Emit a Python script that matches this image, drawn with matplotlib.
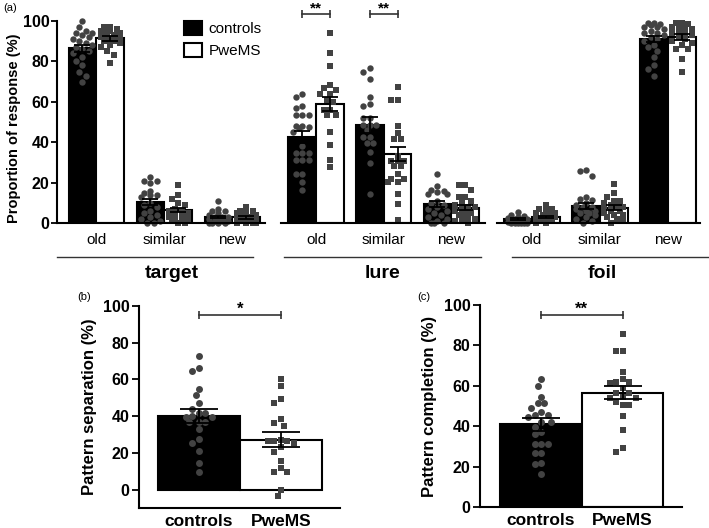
import numpy as np
import matplotlib
matplotlib.use("Agg")
import matplotlib.pyplot as plt
from matplotlib.patches import Patch

plt.rcParams['font.family'] = ['Liberation Sans', 'DejaVu Sans']

W, H = 709, 528

# ---------------- panel (a): proportion of responses ----------------
responses = ['old', 'similar', 'new']
groups = ['target', 'lure', 'foil']

target_ctrl_mean = [86.5, 10.4, 3.0]
target_ctrl_sem = [1.8, 1.6, 0.7]
target_pwms_mean = [91.4, 6.4, 2.8]
target_pwms_sem = [1.2, 1.2, 0.6]
lure_ctrl_mean = [42.7, 48.4, 9.4]
lure_ctrl_sem = [3.0, 4.0, 1.5]
lure_pwms_mean = [58.9, 34.2, 7.6]
lure_pwms_sem = [3.6, 3.6, 1.3]
foil_ctrl_mean = [2.2, 8.4, 91.1]
foil_ctrl_sem = [0.5, 1.6, 1.5]
foil_pwms_mean = [3.0, 7.6, 92.2]
foil_pwms_sem = [0.6, 1.2, 1.4]

target_old_ctrl = [100, 97, 95, 94, 94, 93, 92, 91, 90, 89, 88, 87, 86, 85, 84, 82, 80, 78, 75, 73, 70]
target_old_pwms = [97, 97, 96, 96, 95, 95, 94, 93, 93, 92, 91, 91, 90, 90, 89, 88, 87, 85, 83, 79]
target_sim_ctrl = [23, 21, 21, 20, 16, 15, 14, 14, 13, 10, 9, 8, 6, 5, 4, 3, 2, 1, 0, 0]
target_sim_pwms = [19, 14, 12, 10, 9, 7, 6, 6, 5, 5, 4, 3, 3, 2, 2, 1, 0, 0]
target_new_ctrl = [11, 7, 6, 6, 5, 4, 3, 3, 3, 2, 2, 2, 1, 1, 1, 0, 0, 0, 0]
target_new_pwms = [8, 6, 6, 5, 5, 4, 3, 3, 2, 2, 2, 1, 1, 1, 0, 0, 0, 0]

lure_old_ctrl = [64, 62.5, 58, 57, 53.5, 53.5, 53.5, 48, 48, 47.5, 47, 45, 38, 34.5, 34.5, 34.5,
                 31, 31, 31, 24.5, 24.5, 20.5, 16.5]
lure_old_pwms = [94, 84, 77.5, 68.5, 67, 66, 64, 64, 61, 60, 56, 56, 53.5, 53.5, 45, 38.5, 31, 27.5]
lure_sim_ctrl = [76.5, 75, 71.5, 62.5, 59, 58, 52, 52, 48.5, 48.5, 48.5, 46, 42.5, 42.5, 39.5, 39.5,
                 35, 29.5, 14.5]
lure_sim_pwms = [67.5, 61, 61, 48, 44.5, 41.5, 41.5, 33, 30.5, 30.5, 30.5, 28, 28, 24.5, 22, 22,
                 20.5, 20.5, 14.5, 9.5, 1.5]
lure_new_ctrl = [24.5, 18.5, 16.5, 16, 15.5, 14.5, 14.5, 11, 10, 9, 8, 7, 6, 5, 4, 3, 2, 1, 0, 0, 0]
lure_new_pwms = [19, 19, 16.5, 13, 13, 11, 10, 9, 8, 8, 7, 6, 5, 5, 4, 3, 2, 2, 1, 0]

foil_old_ctrl = [5.5, 4, 3.5, 3, 2.5, 2, 2, 1.5, 1, 1, 0.5, 0.5, 0, 0, 0, 0, 0, 0]
foil_old_pwms = [9, 7, 7, 6, 5, 5, 4, 4, 3, 3, 2, 2, 1, 1, 0, 0]
foil_sim_ctrl = [26, 25.5, 23.5, 13, 12, 11.5, 10, 9, 8, 8, 7, 6, 6, 5, 5, 4, 3, 2, 1, 0]
foil_sim_pwms = [19.5, 15, 13, 11, 11, 10, 9, 8, 8, 7, 6, 6, 5, 4, 4, 3, 2, 1, 0]
foil_new_ctrl = [99, 99, 98.5, 98, 97, 97, 96, 95, 94, 94, 93, 92, 91, 90, 88, 87, 85, 82, 78, 76, 73]
foil_new_pwms = [99, 99, 98.5, 98, 97, 97, 96, 95, 94, 94, 93, 92, 91, 90, 89, 88, 86, 86, 81, 75]

# ---------------- panels (b) and (c) ----------------
subjects = ['controls', 'PweMS']
sep_mean = [40.1, 27.3]
sep_sem = [4.0, 4.0]
sep_ctrl = [72.9, 66, 64.6, 54.8, 51.4, 47, 44, 41.6, 41.6, 40, 39.8, 39.5, 36.7, 36.7, 36.7,
            32.9, 27.5, 25.3, 21.2, 14.5, 9.9]
sep_pwms = [60.2, 56.4, 49.4, 47.0, 38.3, 36.2, 34.9, 27.1, 26.8, 26.8, 26.8, 25.3, 23.5, 20.8,
            15.9, 11.8, 9.6, 9.6, 0, -3.1]
comp_mean = [41.0, 56.7]
comp_sem = [3.2, 3.3]
comp_ctrl = [63.3, 60.1, 54.4, 51.4, 51.4, 49.3, 47.3, 45.5, 45.5, 44.8, 42.3, 42.3, 39.9, 37.4,
             36.2, 31.1, 31.1, 31.1, 26.7, 26.7, 22.1, 21.4, 16.3]
comp_pwms = [85.5, 77.3, 77.3, 67.1, 63.3, 62.1, 62.1, 61.3, 58.8, 56.3, 56.3, 54.7, 53.9, 53.9,
             52.2, 50.6, 50.6, 45.1, 38.2, 29.2, 27.2]

PT_COLOR = '#424242'


def swarm(values, ppx, ppy, diam, maxoff):
    """simple beeswarm: returns x offsets (data units) so markers barely overlap"""
    vals = np.asarray(values, float)
    step = diam * 0.5
    nmax = max(int(maxoff * ppx / step), 0)
    cands = [0.0] + [s * k * step for k in range(1, nmax + 1) for s in (-1, 1)]
    placed = []
    offs = np.zeros(len(vals))
    for i in np.argsort(-vals):
        y = vals[i] * ppy
        best, bestd = 0.0, -1.0
        for x in cands:
            d = min([np.hypot(x - a, y - b) for a, b in placed], default=1e9)
            if d >= diam:
                best = x
                break
            if d > bestd:
                best, bestd = x, d
        placed.append((best, y))
        offs[i] = best / ppx
    return offs


def draw_pair(ax, x, means, sems, pts, width, ppx, ppy, msize, capsize, maxoff):
    cols = ['black', 'white']
    marks = ['o', 's']
    for j in range(2):
        xc = x + (j - 0.5) * width
        ax.bar(xc, means[j], width, color=cols[j], edgecolor='black', linewidth=1.5, zorder=1)
        offs = swarm(pts[j], ppx, ppy, msize / 0.72, maxoff)
        ax.plot(xc + offs, pts[j], marks[j], color=PT_COLOR, ms=msize, mew=0,
                zorder=2, clip_on=False)
        ax.errorbar(xc, means[j], yerr=sems[j], color='black', lw=1.3, capsize=capsize,
                    capthick=1.3, zorder=3)


def bracket(ax, x1, x2, y, stars, fs):
    ax.plot([x1, x2], [y, y], color='#333333', lw=1.2, marker='|', ms=6, mew=1.2, clip_on=False)
    ax.text((x1 + x2) / 2, y + 0.5, stars, ha='center', va='baseline', fontsize=fs,
            fontweight='bold', clip_on=False)


def px_axes(x0, x1, y0, y1):
    return fig.add_axes([x0 / W, 1 - y1 / H, (x1 - x0) / W, (y1 - y0) / H])


fig = plt.figure(figsize=(W / 100, H / 100), dpi=100)

# ---- panel (a) ----
a_spans = [(57, 265, -0.58, 2.48), (281, 485, -0.52, 2.50), (497, 700, -0.51, 2.47)]
a_lines = [(0.0, 0.942), (0.015, 0.98), (0.074, 1.04)]
a_means = [(target_ctrl_mean, target_pwms_mean), (lure_ctrl_mean, lure_pwms_mean),
           (foil_ctrl_mean, foil_pwms_mean)]
a_sems = [(target_ctrl_sem, target_pwms_sem), (lure_ctrl_sem, lure_pwms_sem),
          (foil_ctrl_sem, foil_pwms_sem)]
a_pts = [[(target_old_ctrl, target_old_pwms), (target_sim_ctrl, target_sim_pwms),
          (target_new_ctrl, target_new_pwms)],
         [(lure_old_ctrl, lure_old_pwms), (lure_sim_ctrl, lure_sim_pwms),
          (lure_new_ctrl, lure_new_pwms)],
         [(foil_old_ctrl, foil_old_pwms), (foil_sim_ctrl, foil_sim_pwms),
          (foil_new_ctrl, foil_new_pwms)]]

ppy_a = 202 / 100
axes_a = []
for g, (x0, x1, lo, hi) in enumerate(a_spans):
    ax = px_axes(x0, x1, 21, 223)
    ppx = (x1 - x0) / (hi - lo)
    for r in range(3):
        draw_pair(ax, r, [a_means[g][0][r], a_means[g][1][r]], [a_sems[g][0][r], a_sems[g][1][r]],
                  a_pts[g][r], 0.41, ppx, ppy_a, 4.6, 6, 0.18)
    ax.set_xlim(lo, hi)
    ax.set_ylim(0, 100)
    ax.set_xticks(range(3), responses, fontsize=11)
    ax.tick_params(axis='x', length=0, pad=7)
    for s in ['top', 'right']:
        ax.spines[s].set_visible(False)
    ax.spines['bottom'].set_linewidth(1.5)
    if g == 0:
        ax.spines['left'].set_linewidth(1.5)
        ax.set_yticks(range(0, 101, 20))
        ax.tick_params(axis='y', length=4, width=1.3, pad=1.5, labelsize=11.5)
        for t in ax.get_yticklabels():
            t.set_fontweight('bold')
        ax.set_ylabel('Proportion of response (%)', fontsize=10.5, fontweight='bold')
        ax.yaxis.set_label_coords(-0.175, 0.47)
    else:
        ax.spines['left'].set_visible(False)
        ax.set_yticks([])
    l0, l1 = a_lines[g]
    ax.plot([l0, l1], [-0.168, -0.168], color='#333333', lw=1, transform=ax.transAxes, clip_on=False)
    ax.text(0.5 + (0.05 if g == 0 else 0.0) + (0.02 if g == 2 else 0.0), -0.25, groups[g],
            transform=ax.transAxes, ha='center', va='center', fontsize=14, fontweight='bold')
    axes_a.append(ax)

# significance in the lure group
for r in [0, 1]:
    bracket(axes_a[1], r - 0.205, r + 0.205, 103.5, '**', 11)

fig.legend(handles=[Patch(fc='black', ec='black', lw=1.5), Patch(fc='white', ec='black', lw=1.5)],
           labels=subjects, loc='upper left', bbox_to_anchor=(184 / W, 1 - 21 / H), frameon=False,
           fontsize=11, handlelength=1.2, handleheight=1.0, handletextpad=0.4, labelspacing=0.45,
           borderpad=0, borderaxespad=0)

# ---- panels (b) and (c) ----
bc = [(139, 340, 305.7, 508.4, -0.73, 1.72, -10, sep_mean, sep_sem, (sep_ctrl, sep_pwms),
       'Pattern separation (%)', '*', -0.209),
      (480, 682, 305.0, 507.3, -0.75, 1.73, 0, comp_mean, comp_sem, (comp_ctrl, comp_pwms),
       'Pattern completion (%)', '**', -0.213)]
for (x0, x1, y0, y1, lo, hi, ybot, means, sems, pts, ylab, stars, lx) in bc:
    ax = px_axes(x0, x1, y0, y1)
    ppx = (x1 - x0) / (hi - lo)
    ppy = (y1 - y0) / (100 - ybot)
    for j in range(2):
        col = ['black', 'white'][j]
        ax.bar(j, means[j], 1.0, color=col, edgecolor='black', linewidth=1.5, zorder=1)
        offs = swarm(pts[j], ppx, ppy, 6.5, 0.24)
        ax.plot(j + offs, pts[j], ['o', 's'][j], color=PT_COLOR, ms=5.0, mew=0, zorder=2)
        ax.errorbar(j, means[j], yerr=sems[j], color='black', lw=1.3, capsize=14,
                    capthick=1.3, zorder=3)
    ax.set_xlim(lo, hi)
    ax.set_ylim(ybot, 100)
    ax.set_yticks(range(0, 101, 20))
    ax.set_xticks([0, 1], subjects)
    ax.tick_params(axis='x', length=0, pad=4, labelsize=12.5)
    ax.tick_params(axis='y', length=5, width=1.3, pad=2, labelsize=11.5)
    for t in ax.get_xticklabels() + ax.get_yticklabels():
        t.set_fontweight('bold')
    for s in ['top', 'right']:
        ax.spines[s].set_visible(False)
    for s in ['left', 'bottom']:
        ax.spines[s].set_linewidth(1.5)
    ax.set_ylabel(ylab, fontsize=12, fontweight='bold')
    ax.yaxis.set_label_coords(lx, 0.5)
    bracket(ax, 0, 1, 95, stars, 12)

fig.text(3 / W, 1 - 8 / H, '(a)', fontsize=8, va='center')
fig.text(77 / W, 1 - 297 / H, '(b)', fontsize=8, va='center')
fig.text(417 / W, 1 - 297 / H, '(c)', fontsize=8, va='center')

fig.savefig('out.png', dpi=100, facecolor='white')
